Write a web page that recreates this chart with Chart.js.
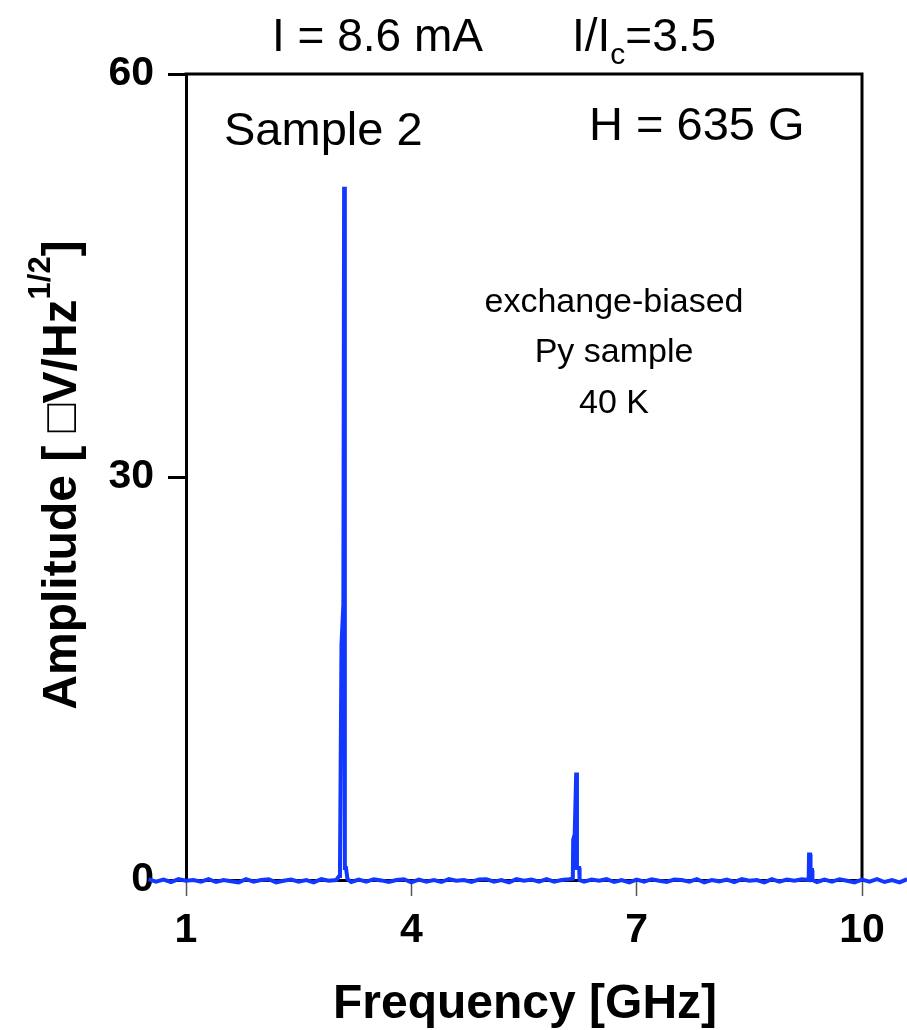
<!DOCTYPE html>
<html>
<head>
<meta charset="utf-8">
<script src="https://cdn.jsdelivr.net/npm/chart.js@4.4.1/dist/chart.umd.min.js"></script>
<style>
  html, body { margin: 0; padding: 0; background: #fff; }
  #wrap { width: 907px; height: 1030px; position: relative; }
</style>
</head>
<body>
<div id="wrap"><canvas id="spectrum"></canvas></div>
<script>
// Spectrum, sample 2, H = 635 G
const freqGHz = [
  0.50, 0.60, 0.70, 0.80, 0.90, 1.00, 1.10, 1.20, 1.30, 1.40,
  1.50, 1.60, 1.70, 1.80, 1.90, 2.00, 2.10, 2.20, 2.30, 2.40,
  2.50, 2.60, 2.70, 2.80, 2.90, 3.00, 3.04, 3.05, 3.07, 3.095,
  3.105, 3.115, 3.13, 3.15, 3.20, 3.30, 3.40, 3.50, 3.60, 3.70,
  3.80, 3.90, 4.00, 4.10, 4.20, 4.30, 4.40, 4.50, 4.60, 4.70,
  4.80, 4.90, 5.00, 5.10, 5.20, 5.30, 5.40, 5.50, 5.60, 5.70,
  5.80, 5.90, 6.00, 6.10, 6.15, 6.155, 6.175, 6.195, 6.205, 6.235,
  6.24, 6.30, 6.40, 6.50, 6.60, 6.70, 6.80, 6.90, 7.00, 7.10,
  7.20, 7.30, 7.40, 7.50, 7.60, 7.70, 7.80, 7.90, 8.00, 8.10,
  8.20, 8.30, 8.40, 8.50, 8.60, 8.70, 8.80, 8.90, 9.00, 9.10,
  9.20, 9.29, 9.295, 9.31, 9.315, 9.335, 9.34, 9.40, 9.50, 9.60,
  9.70, 9.80, 9.90, 10.00, 10.10, 10.20, 10.30, 10.40, 10.50, 10.60
];
const amplitude = [
  0.06, -0.12, 0.03, -0.15, 0.06, -0.06, 0.00, -0.12, 0.06, -0.15,
  0.00, -0.10, -0.18, 0.06, -0.12, 0.00, 0.06, -0.18, -0.06, 0.03,
  -0.12, 0.00, -0.18, 0.06, -0.06, 0.00, 0.30, 0.90, 17.5, 20.5,
  51.6, 0.90, 0.90, 0.06, -0.15, 0.03, -0.12, 0.06, -0.03, -0.15,
  0.00, 0.06, -0.18, 0.03, -0.12, 0.00, -0.15, 0.06, -0.06, 0.00,
  -0.15, 0.03, 0.06, -0.12, 0.00, -0.18, 0.06, -0.06, 0.03, -0.12,
  0.06, -0.12, 0.00, 0.06, 0.10, 3.00, 3.40, 8.00, 0.90, 0.90,
  0.00, -0.12, 0.03, -0.06, 0.06, -0.15, 0.00, -0.18, 0.03, -0.12,
  0.06, -0.06, -0.15, 0.03, 0.00, -0.12, 0.06, -0.18, 0.00, -0.10,
  0.03, -0.15, 0.06, -0.06, 0.00, -0.18, 0.06, -0.12, 0.03, -0.06,
  0.06, 0.00, 1.90, 1.90, 0.75, 0.75, 0.00, -0.15, 0.03, -0.12,
  0.06, -0.06, -0.18, 0.03, -0.12, 0.06, -0.15, 0.00, -0.18, 0.06
];
const xTicks = [1, 4, 7, 10];
const yTicks = [0, 30, 60];

const FONT = '"Liberation Sans", Arial, sans-serif';

// frame + all the free text
const annotate = {
  id: 'annotate',
  beforeDatasetsDraw(chart) {
    const { ctx, chartArea: a } = chart;
    ctx.save();
    ctx.strokeStyle = '#000';
    ctx.lineWidth = 3;
    ctx.beginPath();
    ctx.moveTo(a.left - 1.5, a.top);
    ctx.lineTo(a.right, a.top);
    ctx.lineTo(a.right, a.bottom);
    ctx.stroke();
    ctx.restore();
  },
  afterDraw(chart) {
    const { ctx } = chart;
    ctx.save();
    ctx.fillStyle = '#000';
    ctx.textBaseline = 'alphabetic';
    ctx.textAlign = 'left';

    // header
    ctx.font = '46px ' + FONT;
    ctx.fillText('I = 8.6 mA', 272, 51);
    let x = 572;
    ctx.fillText('I/I', x, 51);
    x += ctx.measureText('I/I').width;
    ctx.font = '30px ' + FONT;
    ctx.fillText('c', x, 64);
    x += ctx.measureText('c').width;
    ctx.font = '46px ' + FONT;
    ctx.fillText('=3.5', x, 51);

    ctx.font = '47px ' + FONT;
    ctx.fillText('Sample 2', 224, 145);
    ctx.fillText('H = 635 G', 589, 140);

    ctx.font = '34px ' + FONT;
    ctx.textAlign = 'center';
    ctx.fillText('exchange-biased', 614, 312);
    ctx.fillText('Py sample', 614, 362);
    ctx.fillText('40 K', 614, 413);

    // x title
    ctx.font = 'bold 48px ' + FONT;
    ctx.fillText('Frequency [GHz]', 525, 1018);

    // y title, rotated, with superscript
    const main = 'Amplitude [ \u25A1V/Hz';
    const sup = '1/2';
    const tail = ']';
    ctx.font = 'bold 48px ' + FONT;
    const wMain = ctx.measureText(main).width;
    const wTail = ctx.measureText(tail).width;
    ctx.font = 'bold 31px ' + FONT;
    const wSup = ctx.measureText(sup).width;
    const total = wMain + wSup + wTail;
    ctx.translate(76, 475);
    ctx.rotate(-Math.PI / 2);
    ctx.textAlign = 'left';
    let p = -total / 2;
    ctx.font = 'bold 48px ' + FONT;
    ctx.fillText(main, p, 0);
    p += wMain;
    ctx.font = 'bold 31px ' + FONT;
    ctx.fillText(sup, p, -26);
    p += wSup;
    ctx.font = 'bold 48px ' + FONT;
    ctx.fillText(tail, p, 0);
    ctx.restore();
  }
};

const ctx = document.getElementById('spectrum').getContext('2d');
const spectrumChart = new Chart(ctx, {
  type: 'line',
  data: {
    datasets: [{
      data: freqGHz.map((f, i) => ({ x: f, y: amplitude[i] })),
      borderColor: '#1238ff',
      borderWidth: 4,
      pointRadius: 0,
      tension: 0,
      fill: false,
      clip: false
    }]
  },
  options: {
    responsive: true,
    maintainAspectRatio: false,
    animation: false,
    layout: { padding: { left: 0, top: 74, right: 45, bottom: 0 } },
    plugins: {
      legend: { display: false },
      tooltip: { enabled: false }
    },
    scales: {
      x: {
        type: 'linear',
        afterDataLimits: (s) => { s.min = 1; s.max = 10; },
        afterBuildTicks: (s) => { s.ticks = xTicks.map(v => ({ value: v })); },
        afterFit: (s) => { s.height = 150; },
        border: { display: true, color: '#000', width: 3 },
        grid: { drawOnChartArea: false, drawTicks: true, tickLength: 16, tickColor: '#555', tickWidth: 1.5 },
        ticks: {
          color: '#000',
          padding: 10,
          maxRotation: 0,
          font: { family: FONT, size: 41, weight: 'bold' }
        }
      },
      y: {
        type: 'linear',
        min: 0,
        max: 60,
        afterBuildTicks: (s) => { s.ticks = yTicks.map(v => ({ value: v })); },
        afterFit: (s) => { s.width = 186; },
        border: { display: true, color: '#000', width: 3 },
        grid: { drawOnChartArea: false, drawTicks: true, tickLength: 18, tickColor: '#000', tickWidth: 3 },
        ticks: {
          color: '#000',
          padding: 14,
          font: { family: FONT, size: 41, weight: 'bold' }
        }
      }
    }
  },
  plugins: [annotate]
});
</script>
</body>
</html>
